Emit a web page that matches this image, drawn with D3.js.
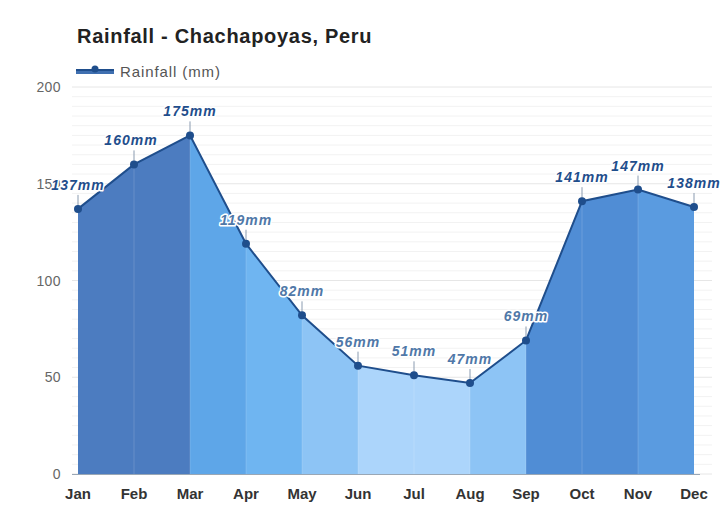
<!DOCTYPE html>
<html><head><meta charset="utf-8">
<script src="https://cdn.jsdelivr.net/npm/d3@7"></script>
<style>
body{margin:0;background:#fff;font-family:"Liberation Sans",Arial,sans-serif;}
</style></head>
<body><svg id="c" width="723" height="511"></svg>
<script>
const months = ["Jan","Feb","Mar","Apr","May","Jun","Jul","Aug","Sep","Oct","Nov","Dec"];
const rainfall = [137,160,175,119,82,56,51,47,69,141,147,138];
const yTicks = [0,50,100,150,200];
const segColors = ["#4c7cc0","#4c7cc0","#5ea6e8","#6fb5f1","#8dc4f5","#acd5fb","#acd5fb","#8dc4f5","#508dd5","#508dd5","#5a9be0"];

const svg = d3.select("#c");
const x = d3.scalePoint().domain(months).range([78,694]);
const y = d3.scaleLinear().domain([0,200]).range([474,87]);

// title & legend
svg.append("text").attr("x",77).attr("y",43).attr("font-size",20).attr("letter-spacing",0.7).attr("font-weight","bold").attr("fill","#222").text("Rainfall - Chachapoyas, Peru");
svg.append("rect").attr("x",76).attr("y",69).attr("width",38).attr("height",5).attr("fill","#3f6fb0");
svg.append("line").attr("x1",76).attr("x2",114).attr("y1",70).attr("y2",70).attr("stroke","#1f4e8c").attr("stroke-width",2);
svg.append("circle").attr("cx",95).attr("cy",69).attr("r",3.5).attr("fill","#1f4e8c");
svg.append("text").attr("x",120).attr("y",77).attr("font-size",15).attr("letter-spacing",0.9).attr("fill","#555").text("Rainfall (mm)");

// gridlines
const grid = d3.range(0,201,5);
svg.append("g").selectAll("line").data(grid).join("line")
  .attr("x1",72).attr("x2",712).attr("y1",d=>y(d)).attr("y2",d=>y(d))
  .attr("stroke",d=>d%50===0?"#e6e6e6":"#f2f2f2").attr("stroke-width",1);

// y axis labels
svg.append("g").selectAll("text").data(yTicks).join("text")
  .attr("x",61).attr("y",d=>y(d)+5).attr("text-anchor","end").attr("font-size",14).attr("letter-spacing",0.4).attr("fill","#666").text(d=>d);

// area segments
const pts = months.map((m,i)=>({m,v:rainfall[i]}));
const area = d3.area().x(d=>x(d.m)).y0(y(0)).y1(d=>y(d.v));
for(let i=0;i<pts.length-1;i++){
  svg.append("path").attr("d",area([pts[i],pts[i+1]])).attr("fill",segColors[i]);
}
// faint vertical separators
svg.append("g").selectAll("line").data(pts.slice(1,-1)).join("line")
  .attr("x1",d=>x(d.m)).attr("x2",d=>x(d.m)).attr("y1",d=>y(d.v)).attr("y2",y(0))
  .attr("stroke","#ffffff").attr("stroke-opacity",0.15).attr("stroke-width",1);

// x axis line
svg.append("line").attr("x1",72).attr("x2",700).attr("y1",y(0)+0.5).attr("y2",y(0)+0.5).attr("stroke","#9aa7b5").attr("stroke-width",1);

// line
const line = d3.line().x(d=>x(d.m)).y(d=>y(d.v));
svg.append("path").attr("d",line(pts)).attr("fill","none").attr("stroke","#1f4e8c").attr("stroke-width",2);

// leader lines
svg.append("g").selectAll("line").data(pts).join("line")
  .attr("x1",d=>x(d.m)).attr("x2",d=>x(d.m)).attr("y1",d=>y(d.v)).attr("y2",d=>y(d.v)-14)
  .attr("stroke","#8a9bb0").attr("stroke-width",1);

// points
svg.append("g").selectAll("circle").data(pts).join("circle")
  .attr("cx",d=>x(d.m)).attr("cy",d=>y(d.v)).attr("r",4).attr("fill","#1f4e8c");

// data labels
const dark = v => v>=130;
svg.append("g").selectAll("text").data(pts).join("text")
  .attr("x",(d,i)=> i===1 ? x(d.m)-3 : x(d.m))
  .attr("y",d=>y(d.v)-19)
  .attr("text-anchor","middle").attr("font-size",14).attr("letter-spacing",1).attr("font-weight","bold").attr("font-style","italic")
  .attr("fill",d=>dark(d.v)?"#1f4e8c":"#4f78a8")
  .attr("stroke","#fff").attr("stroke-width",3).attr("paint-order","stroke").attr("stroke-linejoin","round")
  .text(d=>d.v+"mm");

// x labels
svg.append("g").selectAll("text").data(months).join("text")
  .attr("x",d=>x(d)).attr("y",499).attr("text-anchor","middle").attr("font-size",15).attr("font-weight","bold").attr("fill","#333").text(d=>d);
</script></body></html>
